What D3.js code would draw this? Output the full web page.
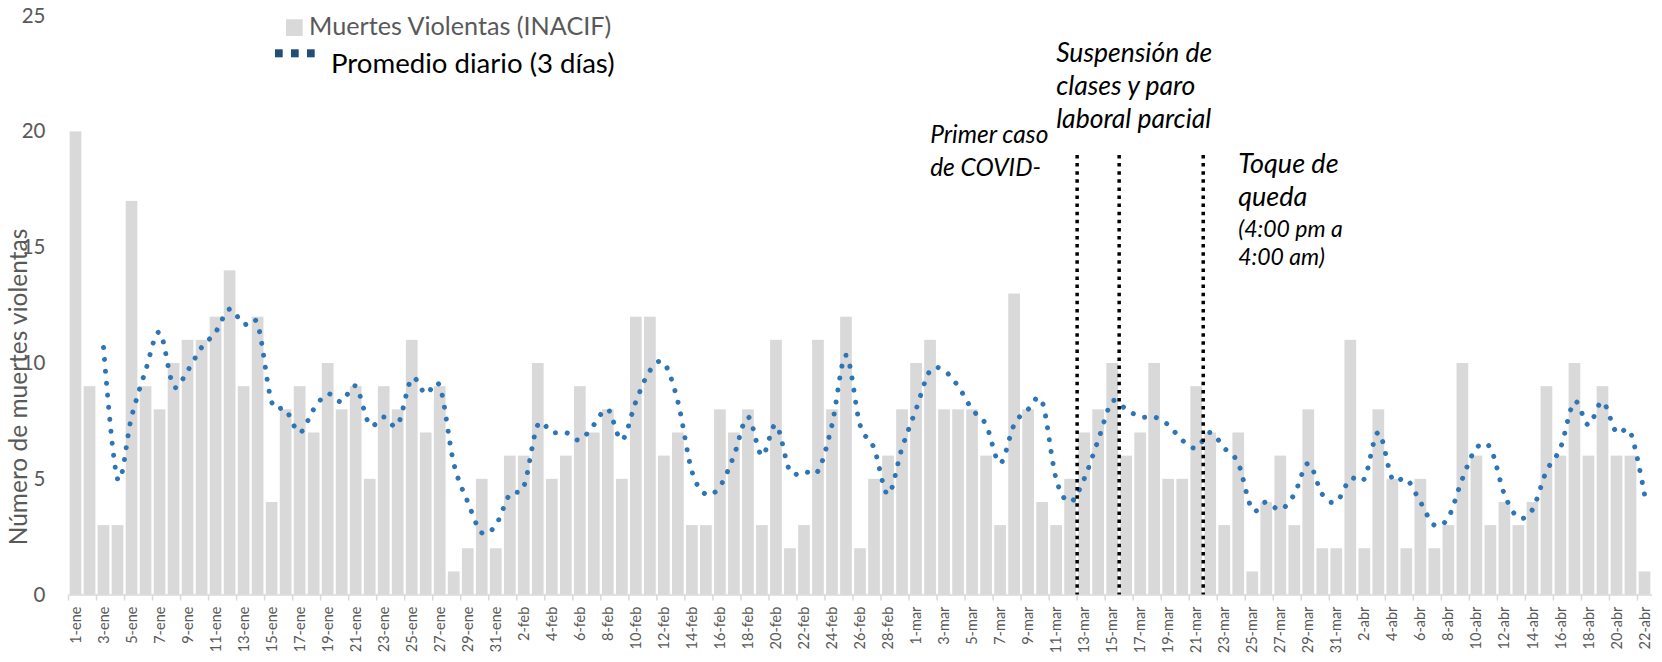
<!DOCTYPE html>
<html>
<head>
<meta charset="utf-8">
<script src="https://cdn.jsdelivr.net/npm/d3@7"></script>
<style>
  body { margin: 0; background: #fff; overflow: hidden; }
  svg text { font-family: Lato, "Open Sans", sans-serif; }
</style>
</head>
<body>
<svg id="chart" width="1662" height="662"></svg>
<script>
// muertes violentas diarias (INACIF), 1-ene a 22-abr
var meses = ["ene", "feb", "mar", "abr"];
var muertesEne = [20, 9, 3, 3, 17, 9, 8, 10, 11, 11, 12, 14, 9, 12, 4, 8, 9, 7, 10, 8, 9, 5, 9, 8, 11, 7, 9, 1, 2, 5, 2];
var muertesFeb = [6, 6, 10, 5, 6, 9, 7, 8, 5, 12, 12, 6, 7, 3, 3, 8, 7, 8, 3, 11, 2, 3, 11, 8, 12, 2, 5, 6, 8];
var muertesMar = [10, 11, 8, 8, 8, 6, 3, 13, 8, 4, 3, 5, 7, 8, 10, 6, 7, 10, 5, 5, 9, 7, 3, 7, 1, 4, 6, 3, 8, 2, 2];
var muertesAbr = [11, 2, 8, 5, 2, 5, 2, 3, 10, 6, 3, 4, 3, 4, 9, 6, 10, 6, 9, 6, 6, 1];

// promedio diario (3 días)
var promedioEne = [null, null, 10.67, 5.00, 7.67, 9.67, 11.33, 9.00, 9.67, 10.67, 11.33, 12.33, 11.67, 11.67, 8.33, 8.00, 7.00, 8.00, 8.67, 8.33, 9.00, 7.33, 7.67, 7.33, 9.33, 8.67, 9.00, 5.67, 4.00, 2.67, 3.00];
var promedioFeb = [4.33, 4.67, 7.33, 7.00, 7.00, 6.67, 7.33, 8.00, 6.67, 8.33, 9.67, 10.00, 8.33, 5.33, 4.33, 4.67, 6.00, 7.67, 6.00, 7.33, 5.33, 5.33, 5.33, 7.33, 10.33, 7.33, 6.33, 4.33, 6.33];
var promedioMar = [8.00, 9.67, 9.67, 9.00, 8.00, 7.33, 5.67, 7.33, 8.00, 8.33, 5.00, 4.00, 5.00, 6.67, 8.33, 8.00, 7.67, 7.67, 7.33, 6.67, 6.33, 7.00, 6.33, 5.67, 3.67, 4.00, 3.67, 4.33, 5.67, 4.33, 4.00];
var promedioAbr = [5.00, 5.00, 7.00, 5.00, 5.00, 4.00, 3.00, 3.33, 5.00, 6.33, 6.33, 4.33, 3.33, 3.67, 5.33, 6.33, 8.33, 7.33, 8.33, 7.00, 7.00, 4.33];

var yTicks = [0, 5, 10, 15, 20, 25];

var eventos = [
    {fecha: "13-mar", lineas: ["Primer caso", "de COVID-"], nota: []},
    {fecha: "16-mar", lineas: ["Suspensión de", "clases y paro", "laboral parcial"], nota: []},
    {fecha: "22-mar", lineas: ["Toque de", "queda"], nota: ["(4:00 pm a", "4:00 am)"]}
];

// junta los meses en una sola lista de días
var muertes = [muertesEne, muertesFeb, muertesMar, muertesAbr],
    promedio = [promedioEne, promedioFeb, promedioMar, promedioAbr],
    dias = [];
meses.forEach(function (m, k) {
    muertes[k].forEach(function (v, i) {
        dias.push({fecha: (i + 1) + "-" + m, muertes: v, promedio: promedio[k][i]});
    });
});

var svg = d3.select("#chart");
var gris = "#595959";

var x = d3.scaleBand().domain(dias.map(function (d) { return d.fecha; }))
        .range([68.5, 1651.5]).paddingInner(0.165).paddingOuter(0.0825),
    y = d3.scaleLinear().domain([0, 25]).range([594.6, 15.6]);

// barras
svg.append("g").selectAll("rect").data(dias).enter().append("rect")
    .attr("x", function (d) { return x(d.fecha); })
    .attr("y", function (d) { return y(d.muertes); })
    .attr("width", x.bandwidth())
    .attr("height", function (d) { return y(0) - y(d.muertes); })
    .attr("fill", "#d9d9d9");

// eje x: marcas entre categorías cada dos días
var xAxis = d3.axisBottom(x)
    .tickValues(dias.filter(function (d, i) { return i % 2 == 0; }).map(function (d) { return d.fecha; }))
    .tickSizeInner(6).tickSizeOuter(0);
var gx = svg.append("g").attr("transform", "translate(0," + y(0) + ")").call(xAxis);
gx.select(".domain").attr("stroke", "#d9d9d9").attr("stroke-width", 1.5);
gx.selectAll(".tick line").attr("stroke", "#d9d9d9").attr("stroke-width", 1.5)
    .attr("transform", "translate(" + (-x.step() / 2) + ",0)");
gx.selectAll(".tick text")
    .attr("transform", "rotate(-90)")
    .attr("x", -12).attr("y", 0).attr("dy", "0.35em")
    .style("text-anchor", "end")
    .attr("fill", gris).attr("font-size", 14.5).attr("font-family", "Lato");

// eje y, sin línea
var gy = svg.append("g").attr("transform", "translate(68.5,0)")
    .call(d3.axisLeft(y).tickValues(yTicks).tickSize(0).tickPadding(23));
gy.select(".domain").remove();
gy.selectAll("text").attr("fill", gris).attr("font-size", 20.5).attr("font-family", "Lato");

svg.append("text")
    .attr("transform", "translate(27,387) rotate(-90)")
    .attr("text-anchor", "middle")
    .attr("fill", gris).attr("font-size", 24.5)
    .text("Número de muertes violentas");

// promedio de 3 días, línea suavizada punteada
var linea = d3.line()
    .defined(function (d) { return d.promedio != null; })
    .x(function (d) { return x(d.fecha) + x.bandwidth() / 2; })
    .y(function (d) { return y(d.promedio); })
    .curve(d3.curveCatmullRom.alpha(0));

svg.append("path").datum(dias)
    .attr("d", linea)
    .attr("fill", "none")
    .attr("stroke", "#2e75b6")
    .attr("stroke-width", 5)
    .attr("stroke-linecap", "round")
    .attr("stroke-dasharray", "0.01 12");

// líneas de eventos y sus textos
var anot = [{dx: -147, y: 143}, {dx: -63, y: 62}, {dx: 35, y: 173}];
var lineH = 33, notaH = 28;

eventos.forEach(function (e, k) {
    var lx = x(e.fecha) - x.step() * x.paddingInner() / 2;
    svg.append("line")
        .attr("x1", lx).attr("x2", lx)
        .attr("y1", 155).attr("y2", y(0))
        .attr("stroke", "#000").attr("stroke-width", 3.5)
        .attr("stroke-dasharray", "3.5 4.6");

    var t = svg.append("text")
        .attr("x", lx + anot[k].dx).attr("y", anot[k].y)
        .attr("font-style", "italic").attr("fill", "#000");
    e.lineas.forEach(function (s, i) {
        t.append("tspan").attr("x", lx + anot[k].dx).attr("y", anot[k].y + i * lineH)
            .attr("font-size", k == 0 ? 24.5 : (k == 2 ? 27 : 26.5)).text(s);
    });
    e.nota.forEach(function (s, i) {
        t.append("tspan").attr("x", lx + anot[k].dx)
            .attr("y", anot[k].y + (e.lineas.length - 1) * lineH + 31 + i * notaH)
            .attr("font-size", 23).text(s);
    });
});

// leyenda
var ley = svg.append("g");
ley.append("rect").attr("x", 286).attr("y", 19.3).attr("width", 16.7).attr("height", 16.7).attr("fill", "#d9d9d9");
ley.append("text").attr("x", 309).attr("y", 35).attr("fill", gris).attr("font-size", 25.2)
    .text("Muertes Violentas (INACIF)");
ley.selectAll(".cuad").data([0, 1, 2]).enter().append("rect")
    .attr("x", function (d) { return 275 + d * 16; }).attr("y", 49.3)
    .attr("width", 7.7).attr("height", 8)
    .attr("fill", "#1f4e79");
ley.append("text").attr("x", 331).attr("y", 73).attr("fill", "#000").attr("font-size", 27.6)
    .text("Promedio diario (3 días)");
</script>
</body>
</html>
